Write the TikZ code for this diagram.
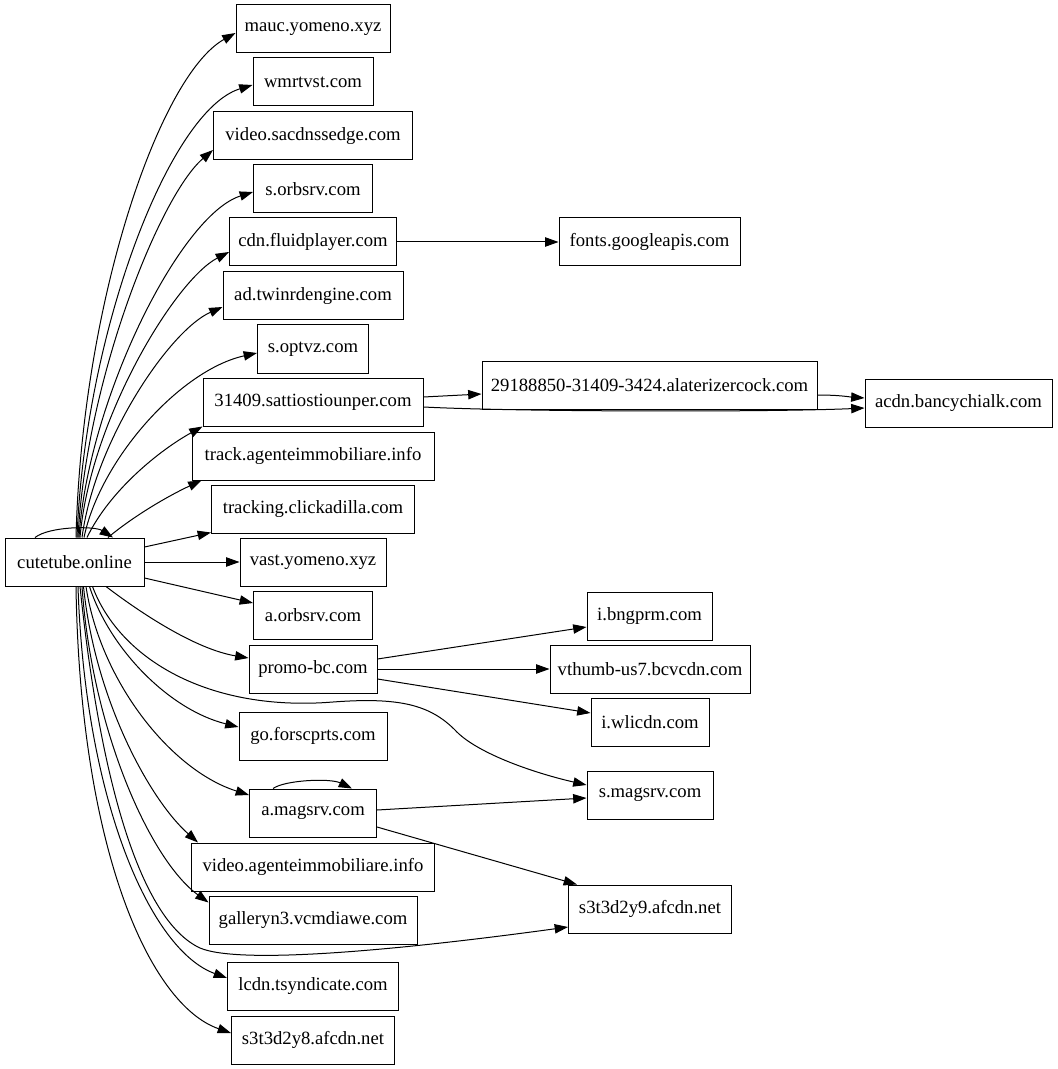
\documentclass[tikz,border=0pt]{standalone}
\usepackage{fontspec}
\setmainfont{Liberation Serif}
\usetikzlibrary{arrows.meta,calc}
\begin{document}
\begin{tikzpicture}[x=0.75pt,y=-0.75pt,
  box/.style={draw, line width=0.75pt, rectangle, minimum height=36pt, inner sep=2pt,
    font=\fontsize{14pt}{16pt}\selectfont},
  wd/.style={minimum width=#1*0.75pt},
  arr/.style={line width=0.75pt, -{Triangle[length=10pt,width=7pt]}}]
\useasboundingbox[fill=white] (0,0) rectangle (1057,1069);
% nodes
\node[box,wd=139] (cute) at (74.5,562) {cutetube.online};
\node[box,wd=154] (mauc) at (313,29) {mauc.yomeno.xyz};
\node[box,wd=120] (wmrtvst) at (313,82) {wmrtvst.com};
\node[box,wd=199] (vsac) at (313,136) {video.sacdnssedge.com};
\node[box,wd=119] (sorb) at (313,189) {s.orbsrv.com};
\node[box,wd=167] (cdn) at (313,242) {cdn.fluidplayer.com};
\node[box,wd=180] (adtw) at (313,296) {ad.twinrdengine.com};
\node[box,wd=111] (sopt) at (313,349) {s.optvz.com};
\node[box,wd=220] (s31409) at (313,402) {31409.sattiostiounper.com};
\node[box,wd=242] (track) at (313,456) {track.agenteimmobiliare.info};
\node[box,wd=203] (tclick) at (313,509) {tracking.clickadilla.com};
\node[box,wd=146] (vast) at (313,562) {vast.yomeno.xyz};
\node[box,wd=119] (aorb) at (313,615) {a.orbsrv.com};
\node[box,wd=128] (promo) at (313,669) {promo-bc.com};
\node[box,wd=148] (gofor) at (313,736) {go.forscprts.com};
\node[box,wd=127] (amag) at (313,813) {a.magsrv.com};
\node[box,wd=243] (vagent) at (313,867) {video.agenteimmobiliare.info};
\node[box,wd=208] (gall) at (313,920) {galleryn3.vcmdiawe.com};
\node[box,wd=171] (lcdn) at (313,986) {lcdn.tsyndicate.com};
\node[box,wd=163] (s3y8) at (313,1040) {s3t3d2y8.afcdn.net};
\node[box,wd=181] (fonts) at (649.5,242) {fonts.googleapis.com};
\node[box,wd=335] (alat) at (649.5,385) {29188850-31409-3424.alaterizercock.com};
\node[box,wd=187] (acdn) at (958.5,403) {acdn.bancychialk.com};
\node[box,wd=125] (ibng) at (649.5,616) {i.bngprm.com};
\node[box,wd=200] (vthumb) at (650,669) {vthumb-us7.bcvcdn.com};
\node[box,wd=118] (iwli) at (650,722) {i.wlicdn.com};
\node[box,wd=126] (smag) at (650,795) {s.magsrv.com};
\node[box,wd=163] (s3y9) at (650,909) {s3t3d2y9.afcdn.net};
% self loops
\draw[arr] ($(cute.north)+(-39.5,0)$) .. controls (50,526) and (95,526) .. ($(cute.north)+(38.5,0)$);
\draw[arr] ($(amag.north)+(-40,0)$) .. controls (285,780) and (330,778) .. ($(amag.north)+(39,0)$);
% upper edges
\draw[arr] ($(cute.north)+(1.5,0)$) .. controls (82,300) and (160,75) .. ($(mauc.west)+(0,4)$);
\draw[arr] ($(cute.north)+(2.5,0)$) .. controls (85,330) and (170,110) .. ($(wmrtvst.west)+(0,3)$);
\draw[arr] ($(cute.north)+(3.5,0)$) .. controls (86,380) and (160,195) .. ($(vsac.west)+(0,14)$);
\draw[arr] ($(cute.north)+(4.5,0)$) .. controls (88,400) and (180,215) .. ($(sorb.west)+(0,3)$);
\draw[arr] ($(cute.north)+(5.5,0)$) .. controls (90,420) and (175,280) .. ($(cdn.west)+(0,10)$);
\draw[arr] ($(cute.north)+(7.5,0)$) .. controls (95,440) and (170,330) .. ($(adtw.west)+(0,11)$);
\draw[arr] ($(cute.north)+(9.5,0)$) .. controls (100,460) and (180,370) .. ($(sopt.west)+(0,4)$);
\draw[arr] ($(cute.north)+(12.5,0)$) .. controls (110,490) and (160,450) .. (s31409.south west);
\draw[arr] ($(cute.north)+(33.5,0)$) .. controls (135,515) and (170,495) .. ($(track.south west)+(10,0)$);
% middle
\draw[arr] ($(cute.east)+(0,-15)$) -- ($(tclick.south west)+(0,-1)$);
\draw[arr] (cute.east) -- (vast.west);
\draw[arr] ($(cute.east)+(0,16)$) -- ($(aorb.west)+(0,-12)$);
% lower edges
\draw[arr] ($(cute.south)+(31.5,0)$) .. controls (150,620) and (200,650) .. ($(promo.west)+(0,-11)$);
\draw[arr] ($(cute.south)+(18,0)$) .. controls (120,660) and (210,712) .. (333,702) .. controls (400,697) and (430,705) .. (455,730) .. controls (475,752) and (530,772) .. ($(smag.west)+(0,-10)$);
\draw[arr] ($(cute.south)+(15,0)$) .. controls (110,650) and (170,710) .. ($(gofor.west)+(0,-9)$);
\draw[arr] ($(cute.south)+(11.5,0)$) .. controls (100,680) and (170,770) .. ($(amag.west)+(0,-18)$);
\draw[arr] ($(cute.south)+(9,0)$) .. controls (95,700) and (150,800) .. ($(vagent.north west)+(7,0)$);
\draw[arr] ($(cute.south)+(7.5,0)$) .. controls (92,730) and (150,860) .. ($(gall.north west)+(0,7)$);
\draw[arr] ($(cute.south)+(5.5,0)$) .. controls (100,780) and (140,920) .. (200,948) .. controls (240,965) and (400,950) .. ($(s3y9.west)+(0,18)$);
\draw[arr] ($(cute.south)+(3.5,0)$) .. controls (85,800) and (150,950) .. ($(lcdn.west)+(0,-8)$);
\draw[arr] ($(cute.south)+(1.5,0)$) .. controls (80,850) and (150,1005) .. ($(s3y8.west)+(0,-7)$);
% right side
\draw[arr] (cdn.east) -- (fonts.west);
\draw[arr] ($(s31409.east)+(0,-5)$) -- ($(alat.west)+(0,9)$);
\draw[arr] ($(s31409.east)+(0,5)$) .. controls (520,412) and (780,412) .. ($(acdn.west)+(0,5)$);
\draw[arr] ($(alat.east)+(0,10)$) .. controls (840,395) and (850,397) .. ($(acdn.west)+(0,-5)$);
\draw[arr] ($(promo.east)+(0,-10)$) -- ($(ibng.west)+(0,11)$);
\draw[arr] (promo.east) -- (vthumb.west);
\draw[arr] ($(promo.east)+(0,10)$) -- ($(iwli.west)+(0,-9)$);
\draw[arr] ($(amag.east)+(0,-3)$) -- ($(smag.west)+(0,3)$);
\draw[arr] ($(amag.east)+(0,14)$) -- ($(s3y9.north west)+(9,0)$);
\end{tikzpicture}
\end{document}
